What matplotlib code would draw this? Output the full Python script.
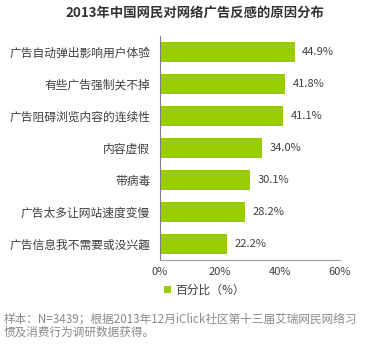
import matplotlib.pyplot as plt

plt.rcParams['font.family'] = ['Noto Sans CJK SC', 'DejaVu Sans']

# 2013 online ad annoyance reasons, share of respondents (%)
REASONS = ['广告自动弹出影响用户体验', '有些广告强制关不掉', '广告阻碍浏览内容的连续性',
           '内容虚假', '带病毒', '广告太多让网站速度变慢', '广告信息我不需要或没兴趣']
SHARE = [44.9, 41.8, 41.1, 34.0, 30.1, 28.2, 22.2]
XTICKS = [0, 20, 40, 60]

GREEN = '#99cc00'
TEXT = '#404040'

fig = plt.figure(figsize=(3.72, 3.44), dpi=100)
ax = fig.add_axes([160 / 372, 1 - 260 / 344, 180 / 372, 224 / 344])

pos = list(range(len(REASONS)))
ax.barh(pos, SHARE, height=0.62, color=GREEN, label='百分比（%）')
for p, v in zip(pos, SHARE):
    ax.text(v + 2.5, p, f'{v:.1f}%', va='center', ha='left', fontsize=8, color=TEXT)

ax.set_ylim(len(REASONS) - 0.5, -0.5)
ax.set_xlim(0, 60)
ax.set_yticks(pos)
ax.set_yticklabels(REASONS, fontsize=8.5, color=TEXT)
ax.set_xticks(XTICKS)
ax.set_xticklabels([f'{t}%' for t in XTICKS], fontsize=8, color=TEXT)
ax.tick_params(length=0, pad=7)
ax.tick_params(axis='x', pad=5)
for s in ['top', 'right']:
    ax.spines[s].set_visible(False)
ax.spines['left'].set_color('#808080')
ax.spines['bottom'].set_color('#a0a0a0')

fig.text(195 / 372, 1 - 13 / 344, '2013年中国网民对网络广告反感的原因分布',
         ha='center', va='center', fontsize=9.6, fontweight='bold', color='#333333')

fig.legend(loc='center left', bbox_to_anchor=(158 / 372, 1 - 290 / 344), frameon=False,
           fontsize=8.5, handlelength=0.6, handleheight=0.6, handletextpad=0.4,
           labelcolor=TEXT, borderpad=0)

fig.text(4 / 372, 1 - 319 / 344, '样本：N=3439；根据2013年12月iClick社区第十三届艾瑞网民网络习',
         ha='left', va='center', fontsize=8.4, color='#8a8a8a')
fig.text(4 / 372, 1 - 332 / 344, '惯及消费行为调研数据获得。',
         ha='left', va='center', fontsize=8.4, color='#8a8a8a')

fig.savefig('out.png', dpi=100)
